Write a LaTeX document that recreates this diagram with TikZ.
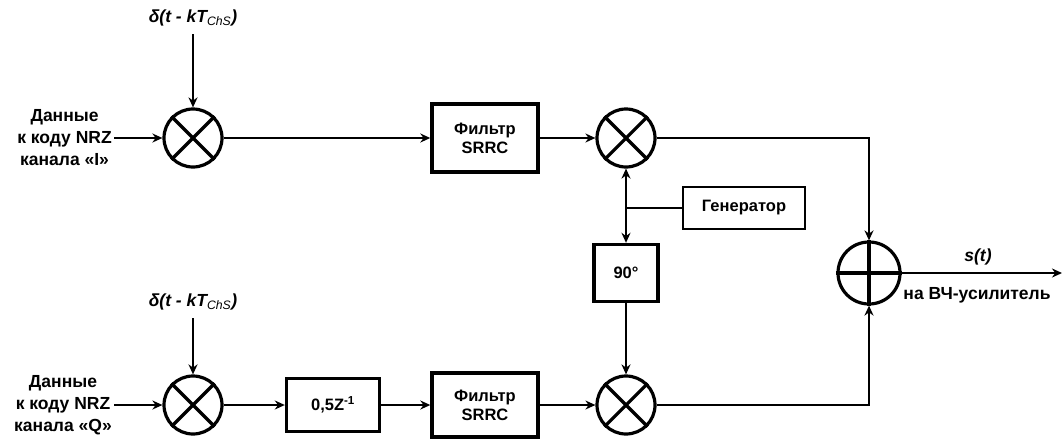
\documentclass[tikz,border=0pt]{standalone}
\usepackage{fontspec}
\setmainfont{Liberation Sans}
\usetikzlibrary{arrows.meta}
\begin{document}
\begin{tikzpicture}[x=1pt,y=-1pt,
  line width=2.4pt,
  arr/.style={-{Stealth[length=10pt,width=9pt]}},
  mix/.style={circle,draw,line width=3.2pt,minimum size=58pt,inner sep=0pt},
  blk/.style={draw,line width=3.4pt,align=center,inner sep=0pt,font=\bfseries\fontsize{16.5}{19}\selectfont},
  lbl/.style={align=center,inner sep=1pt,font=\bfseries\fontsize{17.5}{22}\selectfont},
  ilbl/.style={inner sep=1pt,font=\bfseries\itshape\fontsize{17.5}{19}\selectfont}]
\useasboundingbox (0,0) rectangle (1064,439);

% inputs
\node[lbl,anchor=east] (inI) at (114,138) {Данные\\к коду NRZ\\канала «I»};
\node[lbl,anchor=east] (inQ) at (114,405) {Данные\\к коду NRZ\\канала «Q»};
\node[ilbl] (dI) at (193,18) {δ(t - kT\textsubscript{\mdseries ChS})};
\node[ilbl] (dQ) at (193,302) {δ(t - kT\textsubscript{\mdseries ChS})};

% mixers
\node[mix] (m1t) at (193,138) {};
\node[mix] (m1b) at (193,405) {};
\node[mix] (m2t) at (626,138) {};
\node[mix] (m2b) at (626,405) {};
\node[mix,minimum size=62pt] (sum) at (869,273) {};
\foreach \m in {m1t,m1b,m2t,m2b}{
  \draw[line width=3.2pt] (\m.45) -- (\m.225) (\m.135) -- (\m.315);
}
\draw[line width=3.2pt] (sum.north) -- (sum.south) (sum.west) -- (sum.east);

% blocks
\node[blk,minimum width=106pt,minimum height=68pt] (f1) at (485,138) {Фильтр\\SRRC};
\node[blk,minimum width=106pt,minimum height=64pt] (f2) at (485,405) {Фильтр\\SRRC};
\node[blk,minimum width=93pt,minimum height=53pt] (z) at (333,405) {0,5Z\textsuperscript{-1}};
\node[blk,line width=2.8pt,minimum width=122pt,minimum height=42pt] (gen) at (744,208) {Генератор};
\node[blk,minimum width=64pt,minimum height=57pt] (ph) at (626,273) {90°};
\coordinate (j) at (626,208);

% connectors
\draw[arr] (inI.east) -- (m1t.west);
\draw[arr] (inQ.east) -- (m1b.west);
\draw[arr] (m1t.north |- dI.south) ++(0,6) -- (m1t.north);
\draw[arr] (m1b.north |- dQ.south) ++(0,6) -- (m1b.north);
\draw[arr] (m1t.east) -- (f1.west);
\draw[arr] (f1.east) -- (m2t.west);
\draw[arr] (m1b.east) -- (z.west);
\draw[arr] (z.east) -- (f2.west);
\draw[arr] (f2.east) -- (m2b.west);
\draw (gen.west) -- (j);
\draw[arr] (j) -- (m2t.south);
\draw[arr] (j) -- (ph.north);
\draw[arr] (ph.south) -- (m2b.north);
\draw[arr] (m2t.east) -| (sum.north);
\draw[arr] (m2b.east) -| (sum.south);
\coordinate (out) at (1062,273);
\draw[arr] (sum.east) -- (out);
\node[ilbl] (st) at (978,257) {s(t)};
\node[lbl] (amp) at (977,295) {на ВЧ-усилитель};
\end{tikzpicture}
\end{document}
